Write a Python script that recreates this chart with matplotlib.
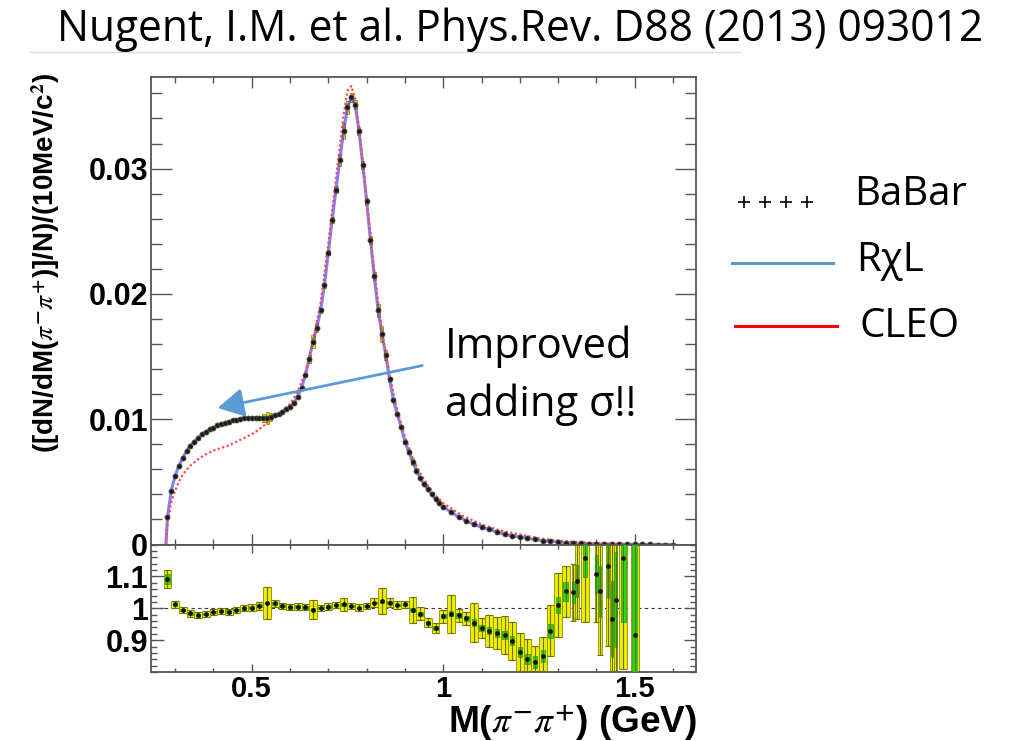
import numpy as np
import matplotlib
matplotlib.use("Agg")
import matplotlib.pyplot as plt
from matplotlib.lines import Line2D
from matplotlib.patches import FancyArrowPatch
from matplotlib.ticker import FixedLocator, FixedFormatter, MultipleLocator

# ---------------- data ----------------
babar_x = [0.28, 0.29, 0.30, 0.31, 0.32, 0.33, 0.34, 0.35, 0.36, 0.37, 0.38, 0.39,
           0.40, 0.41, 0.42, 0.43, 0.44, 0.45, 0.46, 0.47, 0.48, 0.49, 0.50, 0.51,
           0.52, 0.53, 0.54, 0.55, 0.56, 0.57, 0.58, 0.59, 0.60, 0.61, 0.62, 0.63,
           0.64, 0.65, 0.66, 0.67, 0.68, 0.69, 0.70, 0.71, 0.72, 0.73, 0.74, 0.75,
           0.76, 0.77, 0.78, 0.79, 0.80, 0.81, 0.82, 0.83, 0.84, 0.85, 0.86, 0.87,
           0.88, 0.89, 0.90, 0.91, 0.92, 0.93, 0.94, 0.95, 0.96, 0.97, 0.98, 0.99,
           1.00, 1.02, 1.04, 1.06, 1.08, 1.10, 1.12, 1.14, 1.16, 1.18, 1.20, 1.22,
           1.24, 1.26, 1.28, 1.30, 1.32, 1.34, 1.36, 1.38, 1.40, 1.42, 1.44, 1.46,
           1.48, 1.50, 1.52, 1.54, 1.56, 1.58, 1.60]
babar_y = [0.0022, 0.0043, 0.0055, 0.0063, 0.0069, 0.0075, 0.0079, 0.0082, 0.0085, 0.0088, 0.0090, 0.0092,
           0.0093, 0.0095, 0.0096, 0.0097, 0.0098, 0.0099, 0.0099, 0.0100, 0.0101, 0.0101, 0.0101, 0.0101,
           0.0101, 0.0101, 0.0101, 0.0102, 0.0103, 0.0104, 0.0106, 0.0108, 0.0110, 0.0113, 0.0118, 0.0125,
           0.0135, 0.0148, 0.0162, 0.0173, 0.0187, 0.0207, 0.0233, 0.0259, 0.0283, 0.0307, 0.0330, 0.0349,
           0.0357, 0.0351, 0.0330, 0.0303, 0.0274, 0.0243, 0.0214, 0.0187, 0.0168, 0.0151, 0.0132, 0.0115,
           0.0104, 0.0094, 0.0082, 0.0074, 0.0066, 0.0059, 0.0053, 0.0048, 0.0044, 0.0040, 0.0036, 0.0033,
           0.0030, 0.0026, 0.0022, 0.0019, 0.0016, 0.0014, 0.0012, 0.0010, 0.0008, 0.0007, 0.0006, 0.0005,
           0.0004, 0.0003, 0.00025, 0.0002, 0.00015, 0.00011, 0.00008, 0.00006, 0.00005, 0.00004, 0.00003, 0.00002,
           0.00002, 0.00001, 0.00001, 0.00001, 0.0, 0.0, 0.0]

# R chi L fit curve (threshold point + curve through the data)
rchl_x = [0.276] + babar_x
rchl_y = [0.0] + babar_y

cleo_x = [0.276, 0.28, 0.29, 0.30, 0.31, 0.32, 0.34, 0.36, 0.38, 0.40, 0.42, 0.44, 0.46, 0.48,
          0.50, 0.52, 0.54, 0.56, 0.58, 0.60, 0.62, 0.64, 0.66, 0.68, 0.70, 0.72, 0.74,
          0.75, 0.76, 0.77, 0.78, 0.80, 0.82, 0.84, 0.86, 0.88, 0.90, 0.92, 0.94, 0.96,
          0.98, 1.00, 1.05, 1.10, 1.15, 1.20, 1.25, 1.30, 1.35, 1.40, 1.50, 1.60]
cleo_y = [0.0, 0.0017, 0.0034, 0.0043, 0.0050, 0.0056, 0.0063, 0.0068, 0.0072, 0.0075, 0.0077, 0.0079,
          0.0082, 0.0085, 0.0088, 0.0092, 0.0097, 0.0102, 0.0107, 0.0112, 0.0122, 0.0137, 0.0163,
          0.0193, 0.0240, 0.0292, 0.0343, 0.0362, 0.0366, 0.0356, 0.0333, 0.0276, 0.0218, 0.0170,
          0.0135, 0.0107, 0.0086, 0.0069, 0.0057, 0.0047, 0.0039, 0.0033, 0.0023, 0.0016, 0.0011,
          0.0008, 0.0005, 0.0003, 0.0002, 0.0001, 0.00003, 0.0]

ratio_x = [0.28, 0.30, 0.32, 0.34, 0.36, 0.38, 0.40, 0.42, 0.44, 0.46, 0.48, 0.50, 0.52, 0.54,
           0.56, 0.58, 0.60, 0.62, 0.64, 0.66, 0.68, 0.70, 0.72, 0.74, 0.76, 0.78, 0.80, 0.82,
           0.84, 0.86, 0.88, 0.90, 0.92, 0.94, 0.96, 0.98, 1.00, 1.02, 1.04, 1.06, 1.08, 1.10,
           1.12, 1.14, 1.16, 1.18, 1.20, 1.22, 1.24, 1.26, 1.28, 1.30, 1.32, 1.34, 1.35, 1.37,
           1.40, 1.41, 1.43, 1.44, 1.45, 1.47, 1.50]
ratio_y = [1.092, 1.012, 0.995, 0.984, 0.978, 0.982, 0.988, 0.991, 0.989, 0.995, 1.000, 1.002, 1.008, 1.017,
           1.015, 1.008, 1.003, 1.005, 1.003, 0.996, 1.001, 1.005, 1.010, 1.012, 1.008, 1.002, 1.008, 1.018,
           1.022, 1.018, 1.010, 1.012, 0.995, 0.983, 0.955, 0.938, 0.975, 0.983, 0.978, 0.968, 0.955, 0.938,
           0.930, 0.922, 0.915, 0.898, 0.862, 0.842, 0.832, 0.850, 0.930, 1.010, 1.053, 1.050, 1.085, 1.158,
           1.108, 1.053, 1.133, 0.967, 1.027, 1.158, 0.916]
ratio_tot = [0.028, 0.010, 0.010, 0.010, 0.010, 0.010, 0.010, 0.010, 0.010, 0.010, 0.010, 0.010, 0.012, 0.050,
             0.012, 0.010, 0.010, 0.010, 0.010, 0.030, 0.010, 0.010, 0.010, 0.020, 0.010, 0.010, 0.010, 0.015,
             0.040, 0.015, 0.012, 0.012, 0.040, 0.020, 0.015, 0.015, 0.020, 0.060, 0.020, 0.020, 0.060, 0.030,
             0.050, 0.050, 0.060, 0.060, 0.060, 0.060, 0.050, 0.060, 0.080, 0.100, 0.080, 0.090, 0.120, 0.200,
             0.150, 0.200, 0.250, 0.250, 0.300, 0.350, 0.600]
ratio_stat = [0.015, 0.005, 0.004, 0.004, 0.004, 0.004, 0.004, 0.004, 0.004, 0.004, 0.004, 0.004, 0.004, 0.004,
              0.004, 0.004, 0.004, 0.004, 0.004, 0.004, 0.004, 0.004, 0.004, 0.004, 0.003, 0.003, 0.003, 0.003,
              0.004, 0.004, 0.004, 0.004, 0.006, 0.006, 0.006, 0.007, 0.007, 0.008, 0.008, 0.009, 0.010, 0.010,
              0.011, 0.012, 0.013, 0.014, 0.015, 0.016, 0.018, 0.020, 0.022, 0.025, 0.030, 0.032, 0.050, 0.060,
              0.060, 0.080, 0.100, 0.120, 0.150, 0.200, 0.600]

main_yticks = [0.0, 0.01, 0.02, 0.03]
main_yticklabels = ["0", "0.01", "0.02", "0.03"]
ratio_yticks = [0.9, 1.0, 1.1]
ratio_yticklabels = ["0.9", "1", "1.1"]
xticks = [0.5, 1.0, 1.5]
xticklabels = ["0.5", "1", "1.5"]

title_text = "Nugent, I.M. et al. Phys.Rev. D88 (2013) 093012"
legend_labels = ["BaBar", "R\u03c7L", "CLEO"]

# ---------------- figure ----------------
W, H = 1017, 741
fig = plt.figure(figsize=(W / 100, H / 100), dpi=100)
plt.rcParams['mathtext.fontset'] = 'stix'

def fx(px):
    return px / W

def fy(py):
    return 1 - py / H

L, R, T, M, B = 151, 696, 76.5, 544.5, 672
ax = fig.add_axes([fx(L), fy(M), (R - L) / W, (M - T) / H])
axr = fig.add_axes([fx(L), fy(B), (R - L) / W, (B - M) / H])

bx = np.array(babar_x)
by = np.array(babar_y)
rx = np.array(ratio_x)
ry = np.array(ratio_y)
rt = np.array(ratio_tot)
rs = np.array(ratio_stat)

# main panel
berr = by * np.interp(bx, rx, rt)
ax.bar(bx, 2 * berr, bottom=by - berr, width=0.008, color='#eeee00',
       edgecolor='#8c8c00', linewidth=0.6, zorder=2)
ax.plot(rchl_x, rchl_y, color='#3c3cff', lw=2.2, alpha=0.65, zorder=3)
ax.plot(cleo_x, cleo_y, color='#ff4a4a', lw=1.6, ls=(0, (1, 1.1)), zorder=4)
ax.plot(bx, by, 'o', ms=3.6, mfc='#16163c', mec='#55551a', mew=0.6, zorder=5)

ax.set_xlim(0.237, 1.66)
ax.set_ylim(0, 0.03735)

# ratio panel
gaps = np.diff(rx)
w = np.minimum(np.concatenate([gaps, [gaps[-1]]]), np.concatenate([[gaps[0]], gaps]))
w = np.minimum(w, 0.02)
axr.axhline(1.0, color='#333333', lw=0.8, ls=(0, (3, 3)), zorder=1)
axr.bar(rx, 2 * rt, bottom=ry - rt, width=w, color='#eeee00', edgecolor='#8c8c00',
        linewidth=0.6, zorder=2)
axr.bar(rx, 2 * rs, bottom=ry - rs, width=w * 0.6, color='#22dd22', edgecolor='#118811',
        linewidth=0.4, zorder=3)
axr.errorbar(rx, ry, yerr=rt, fmt='o', ms=2.4, color='#111111', ecolor='#6f6f00',
             elinewidth=0.8, capsize=2, capthick=0.8, zorder=4)
axr.set_xlim(0.237, 1.66)
axr.set_ylim(0.8, 1.2)

# axes styling (ROOT-like)
for a in (ax, axr):
    for s in a.spines.values():
        s.set_color('#555555')
        s.set_linewidth(1.3)
    a.tick_params(which='both', direction='in', top=True, right=True, color='#555555', width=1.0)
    a.xaxis.set_major_locator(FixedLocator(xticks))
    a.xaxis.set_minor_locator(MultipleLocator(0.1))

ax.yaxis.set_major_locator(FixedLocator(main_yticks))
ax.yaxis.set_major_formatter(FixedFormatter(main_yticklabels))
ax.yaxis.set_minor_locator(MultipleLocator(0.002))
ax.tick_params(axis='y', which='major', length=15, pad=2)
ax.tick_params(axis='y', which='minor', length=8)
ax.tick_params(axis='x', which='major', length=8)
ax.tick_params(axis='x', which='minor', length=4)
ax.tick_params(axis='x', labelbottom=False)

axr.yaxis.set_major_locator(FixedLocator(ratio_yticks))
axr.yaxis.set_major_formatter(FixedFormatter(ratio_yticklabels))
axr.yaxis.set_minor_locator(MultipleLocator(0.02))
axr.xaxis.set_major_formatter(FixedFormatter(xticklabels))
axr.tick_params(axis='y', which='major', length=9, pad=2)
axr.tick_params(axis='y', which='minor', length=4)
axr.tick_params(axis='x', which='major', length=6, pad=2)
axr.tick_params(axis='x', which='minor', length=3)

for a in (ax, axr):
    for lab in a.get_yticklabels():
        lab.set_fontfamily('Liberation Sans')
        lab.set_fontweight('bold')
        lab.set_fontsize(22)
for lab in axr.get_xticklabels():
    lab.set_fontfamily('Liberation Sans')
    lab.set_fontweight('bold')
    lab.set_fontsize(21)

renderer = fig.canvas.get_renderer()

def fit_width(t, target):
    bb = t.get_window_extent(renderer)
    t.set_fontsize(t.get_fontsize() * target / bb.width)

def fit_height(t, target):
    bb = t.get_window_extent(renderer)
    t.set_fontsize(t.get_fontsize() * target / bb.height)

# axis titles
ylab = fig.text(fx(46), fy(263), r'([dN/dM($\pi^{\mathbf{-}}\pi^{\mathbf{+}}$)]/N)/(10MeV/c$^{\mathbf{2}}$)',
                rotation=90, ha='center', va='center', family='Liberation Sans',
                weight='bold', fontsize=20)
fit_height(ylab, 380)
xlab = fig.text(fx(697), fy(733), r'M($\pi^{\mathbf{-}}\pi^{\mathbf{+}}$) (GeV)', ha='right', va='baseline',
                family='Liberation Sans', weight='bold', fontsize=20)
fit_width(xlab, 250)

# title
tt = fig.text(fx(57), fy(41), title_text, ha='left', va='baseline', family='Open Sans', fontsize=24)
fit_width(tt, 928)
fig.add_artist(Line2D([fx(30), fx(740)], [fy(52), fy(52)], color='#dddddd', lw=1.0))

# legend (drawn on the figure)
fig.add_artist(Line2D([fx(x) for x in (744, 765, 786, 807)], [fy(202)] * 4, ls='none',
                      marker='+', ms=8, mew=1.2, color='black'))
fig.add_artist(Line2D([fx(732), fx(833)], [fy(263), fy(263)], color='#5b9bd5', lw=2.2))
fig.add_artist(Line2D([fx(735), fx(837)], [fy(326), fy(326)], color='#ff0000', lw=2.2))
leg_pos = [(854, 195), (856, 261), (860, 327)]
for lab, (px, py) in zip(legend_labels, leg_pos):
    fig.text(fx(px), fy(py), lab, ha='left', va='center', family='Open Sans', fontsize=29)

# annotation
fig.text(fx(445), fy(358), "Improved", ha='left', va='baseline', family='Open Sans', fontsize=30)
fig.text(fx(445), fy(416), "adding \u03c3!!", ha='left', va='baseline', family='Open Sans', fontsize=30)
arr = FancyArrowPatch((fx(425), fy(365)), (fx(215), fy(408.5)), transform=fig.transFigure,
                      arrowstyle='-|>,head_length=10,head_width=5.5', color='#5b9bd5', lw=2.0,
                      mutation_scale=1.6)
fig.add_artist(arr)

fig.savefig('out.png', dpi=100)
